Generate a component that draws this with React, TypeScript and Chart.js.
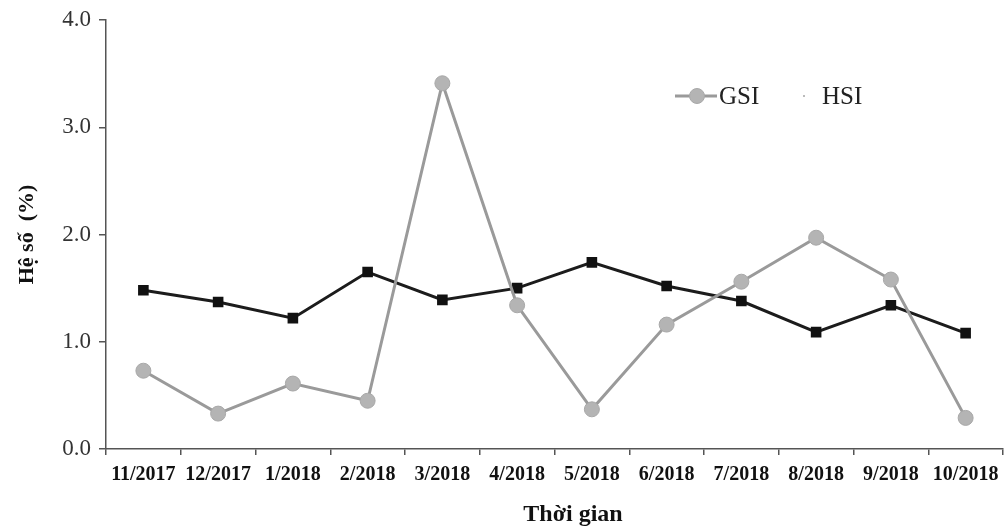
import React, { useEffect, useRef } from "react";
import { Chart, registerables } from "chart.js";

Chart.register(...registerables);

const categories = ["11/2017", "12/2017", "1/2018", "2/2018", "3/2018", "4/2018", "5/2018", "6/2018", "7/2018", "8/2018", "9/2018", "10/2018"];
const gsiValues = [0.73, 0.33, 0.61, 0.45, 3.41, 1.34, 0.37, 1.16, 1.56, 1.97, 1.58, 0.29];
const hsiValues = [1.48, 1.37, 1.22, 1.65, 1.39, 1.50, 1.74, 1.52, 1.38, 1.09, 1.34, 1.08];
const yTicks = [0, 1, 2, 3, 4];
const seriesNames = ["GSI", "HSI"];
const xTitle = "Thời gian";
const yTitle = "Hệ số  (%)";

const FONT = "'Liberation Serif', 'Times New Roman', serif";

const stretchPlugin = {
  id: "stretchRight",
  afterLayout(chart: any) {
    const target = chart.width - 3;
    const x = chart.scales.x;
    if (x.right < target) {
      x.right = target;
      x.width = x.right - x.left;
      chart.chartArea.right = target;
      chart.chartArea.width = target - chart.chartArea.left;
      x.configure();
    }
  },
};

const legendPlugin = {
  id: "customLegend",
  afterDraw(chart: any) {
    const ctx = chart.ctx;
    ctx.save();
    const y = 96;
    // GSI
    ctx.strokeStyle = "#9a9a9a";
    ctx.lineWidth = 3;
    ctx.beginPath();
    ctx.moveTo(675, y);
    ctx.lineTo(717, y);
    ctx.stroke();
    ctx.fillStyle = "#b4b4b4";
    ctx.strokeStyle = "#a8a8a8";
    ctx.lineWidth = 1;
    ctx.beginPath();
    ctx.arc(697, y, 7.5, 0, Math.PI * 2);
    ctx.fill();
    ctx.stroke();
    ctx.fillStyle = "#222";
    ctx.font = `25px ${FONT}`;
    ctx.textBaseline = "middle";
    ctx.textAlign = "left";
    ctx.fillText(seriesNames[0], 719, y + 1);
    // HSI
    ctx.fillStyle = "#bbb";
    ctx.fillRect(803, y - 1, 2, 2);
    ctx.fillStyle = "#222";
    ctx.fillText(seriesNames[1], 822, y + 1);
    // x axis title
    ctx.fillStyle = "#111";
    ctx.font = `bold 24px ${FONT}`;
    ctx.textAlign = "center";
    ctx.fillText(xTitle, 573, 515);
    ctx.restore();
  },
};

export default function App() {
  const ref = useRef<HTMLCanvasElement | null>(null);
  useEffect(() => {
    document.body.style.margin = "0";
    const chart = new Chart(ref.current as HTMLCanvasElement, {
      type: "line",
      data: {
        labels: categories,
        datasets: [
          {
            label: seriesNames[0],
            data: gsiValues,
            borderColor: "#9a9a9a",
            borderWidth: 3,
            pointStyle: "circle",
            pointRadius: 7.5,
            pointBackgroundColor: "#b4b4b4",
            pointBorderColor: "#a8a8a8",
            pointBorderWidth: 1,
            tension: 0,
          },
          {
            label: seriesNames[1],
            data: hsiValues,
            borderColor: "#1c1c1c",
            borderWidth: 3,
            pointStyle: "rect",
            pointRadius: 7.5,
            pointBackgroundColor: "#111",
            pointBorderColor: "#111",
            pointBorderWidth: 0,
            tension: 0,
          },
        ],
      },
      options: {
        responsive: false,
        animation: false,
        layout: { padding: { top: 20, right: 3, left: 14, bottom: 0 } },
        plugins: { legend: { display: false }, tooltip: { enabled: false } },
        scales: {
          x: {
            offset: true,
            grid: {
              offset: true,
              drawOnChartArea: false,
              drawTicks: true,
              tickLength: 6,
              color: "#555",
              lineWidth: 1.5,
            },
            border: { display: true, color: "#555", width: 1.5 },
            ticks: {
              color: "#111",
              font: { family: FONT, size: 20, weight: "bold" },
              padding: 8,
              maxRotation: 0,
              autoSkip: false,
            },
            afterFit: (scale: any) => {
              scale.height = 78;
              scale.paddingLeft = 0;
              scale.paddingRight = 0;
            },
          },
          y: {
            min: 0,
            max: 4,
            afterBuildTicks: (scale: any) => {
              scale.ticks = yTicks.map((v) => ({ value: v }));
            },
            grid: {
              drawOnChartArea: false,
              drawTicks: true,
              tickLength: 7,
              color: "#555",
              lineWidth: 1.5,
            },
            border: { display: true, color: "#555", width: 1.5 },
            ticks: {
              color: "#333",
              font: { family: FONT, size: 23 },
              padding: 8,
              callback: (v: any) => Number(v).toFixed(1),
            },
            title: {
              display: true,
              text: yTitle,
              color: "#111",
              font: { family: FONT, size: 22, weight: "bold" },
              padding: { top: 0, bottom: 4 },
            },
            afterFit: (scale: any) => {
              scale.width = 92;
              scale.paddingTop = 0;
              scale.paddingBottom = 0;
            },
          },
        },
      },
      plugins: [stretchPlugin, legendPlugin],
    });
    return () => chart.destroy();
  }, []);
  return (
    <div style={{ width: 1006, height: 527, background: "#fff" }}>
      <canvas ref={ref} width={1006} height={527} />
    </div>
  );
}
